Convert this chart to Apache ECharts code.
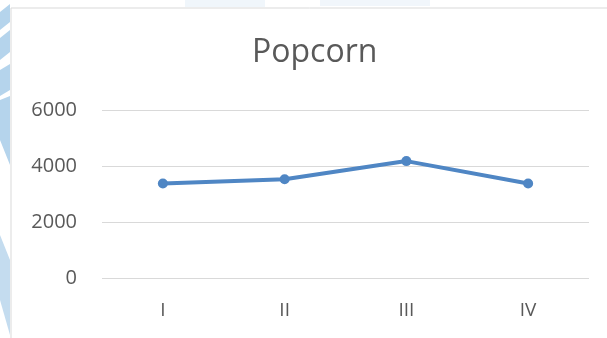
<!DOCTYPE html>
<html><head><meta charset="utf-8">
<script src="https://cdn.jsdelivr.net/npm/echarts@6/dist/echarts.min.js"></script>
<style>html,body{margin:0;padding:0;background:#fff}#c{width:607px;height:338px}</style>
</head><body><div id="c"></div>
<script>
const categories = ['I', 'II', 'III', 'IV'];
const popcorn = [3400, 3550, 4200, 3400];
const yTicks = [0, 2000, 4000, 6000];

const chart = echarts.init(document.getElementById('c'), null, {renderer: 'canvas'});
chart.setOption({
  backgroundColor: '#ffffff',
  animation: false,
  graphic: [
    {type: 'polygon', z: -10, shape: {points: [[0,12],[10,4],[10,22],[0,30]]}, style: {fill: '#b5d4ec'}},
    {type: 'polygon', z: -10, shape: {points: [[0,38],[10,30],[10,52],[0,60]]}, style: {fill: '#b5d4ec'}},
    {type: 'polygon', z: -10, shape: {points: [[0,70],[10,64],[10,90],[0,96]]}, style: {fill: '#b5d4ec'}},
    {type: 'polygon', z: -10, shape: {points: [[0,100],[10,96],[10,165],[0,140]]}, style: {fill: '#b5d4ec'}},
    {type: 'polygon', z: -10, shape: {points: [[0,235],[10,260],[10,335],[0,300]]}, style: {fill: '#c4dcef'}},
    {type: 'rect', z: -10, shape: {x: 185, y: 0, width: 80, height: 7}, style: {fill: '#f0f6fb'}},
    {type: 'rect', z: -10, shape: {x: 320, y: 0, width: 110, height: 6}, style: {fill: '#f1f6fb'}},
    {type: 'rect', z: -5, shape: {x: 11, y: 8, width: 610, height: 340}, style: {fill: '#ffffff', stroke: '#d9d9d9', lineWidth: 1}}
  ],
  title: {
    text: 'Popcorn',
    left: 247,
    top: 32,
    textStyle: {fontFamily: 'Open Sans', fontSize: 32, fontWeight: 'normal', color: '#595959'}
  },
  grid: {left: 102, right: 18, top: 110.7, bottom: 59.3, containLabel: false},
  xAxis: {
    type: 'category',
    data: categories,
    boundaryGap: true,
    axisLine: {show: false},
    axisTick: {show: false},
    axisLabel: {margin: 22, fontFamily: 'Open Sans', fontSize: 19, color: '#595959'}
  },
  yAxis: {
    type: 'value',
    min: yTicks[0],
    max: yTicks[yTicks.length - 1],
    interval: 2000,
    axisLine: {show: false},
    axisTick: {show: false},
    splitLine: {lineStyle: {color: '#d9d9d9', width: 1}},
    axisLabel: {margin: 25, fontFamily: 'Open Sans', fontSize: 20, color: '#595959', formatter: function (v) { return String(v); }}
  },
  series: [{
    type: 'line',
    data: popcorn,
    symbol: 'circle',
    symbolSize: 10,
    lineStyle: {color: '#4f86c4', width: 4},
    itemStyle: {color: '#4f86c4'}
  }]
});
</script></body></html>
